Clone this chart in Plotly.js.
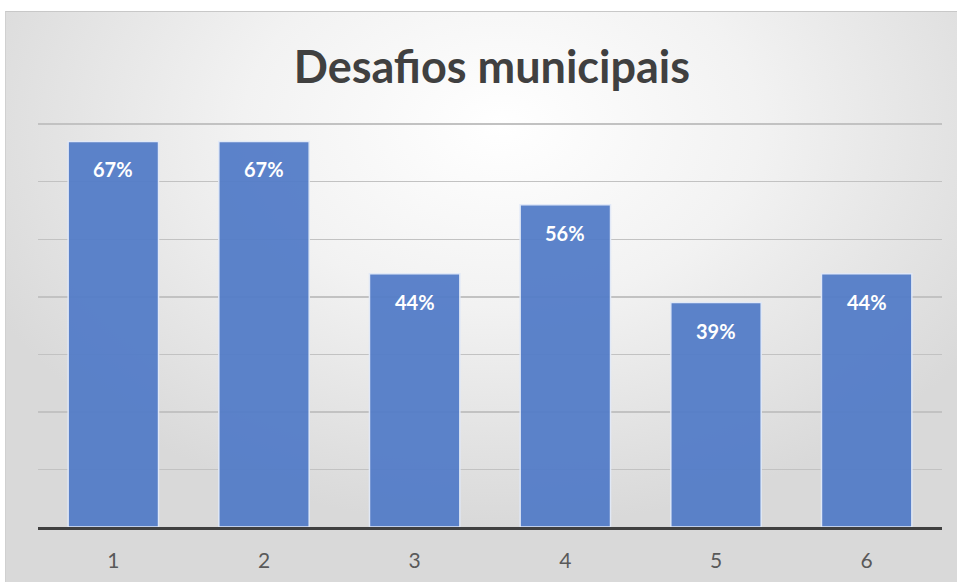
<!DOCTYPE html>
<html><head><meta charset="utf-8">
<script src="https://cdn.plot.ly/plotly-3.0.1.min.js"></script>
<style>
html,body{margin:0;padding:0;background:#fff;}
#wrap{position:absolute;left:0;top:0;width:957px;height:582px;background:#fff;}
#frame{position:absolute;left:5px;top:11px;width:952px;height:571px;
 background:radial-gradient(ellipse 60% 70% at 52% 20%, #ffffff 0%, #f2f2f2 45%, #d9d9d9 100%);
 border-top:1px solid #c8c8c8;border-left:1px solid #d0d0d0;}
#chart{position:absolute;left:0;top:0;width:957px;height:582px;}
</style></head>
<body>
<div id="wrap"><div id="frame"></div><div id="chart"></div></div>
<script>
const categories = ["1","2","3","4","5","6"];
const values = [0.67, 0.67, 0.44, 0.56, 0.39, 0.44];
const labels = ["67%","67%","44%","56%","39%","44%"];

const trace = {
  type: "bar",
  x: categories,
  y: values,
  marker: {color: "rgb(84,125,200)", opacity: 0.95, line: {color: "rgba(225,233,248,1)", width: 1.5}},
  hoverinfo: "skip"
};

const annotations = categories.map((c, i) => ({
  x: i, y: values[i], xref: "x", yref: "y", text: "<b>" + labels[i] + "</b>",
  showarrow: false, yshift: -28,
  font: {family: "Lato, 'Open Sans', sans-serif", size: 20, color: "#ffffff"}
}));

const layout = {
  width: 957, height: 582,
  paper_bgcolor: "rgba(0,0,0,0)", plot_bgcolor: "rgba(0,0,0,0)",
  margin: {l: 38, r: 15, t: 123, b: 55},
  showlegend: false,
  bargap: 0.4,
  title: {text: "<b>Desafios municipais</b>", x: 0.514, xanchor: "center", y: 0.885, yanchor: "middle",
    font: {family: "Lato, 'Open Sans', sans-serif", size: 45, color: "#404040"}},
  xaxis: {type: "category", range: [-0.5, 5.5], showline: true, linecolor: "#404040", linewidth: 3,
    ticks: "outside", ticklen: 13, tickcolor: "rgba(0,0,0,0)", showgrid: false,
    tickfont: {family: "Lato, 'Open Sans', sans-serif", size: 21, color: "#595959"}},
  yaxis: {range: [0, 0.702], tick0: 0, dtick: 0.1, showticklabels: false, zeroline: false,
    showgrid: true, gridcolor: "#c2c2c2", gridwidth: 1.5, fixedrange: true},
  annotations: annotations
};

Plotly.newPlot("chart", [trace], layout, {displayModeBar: false, staticPlot: true});
</script>
</body></html>
